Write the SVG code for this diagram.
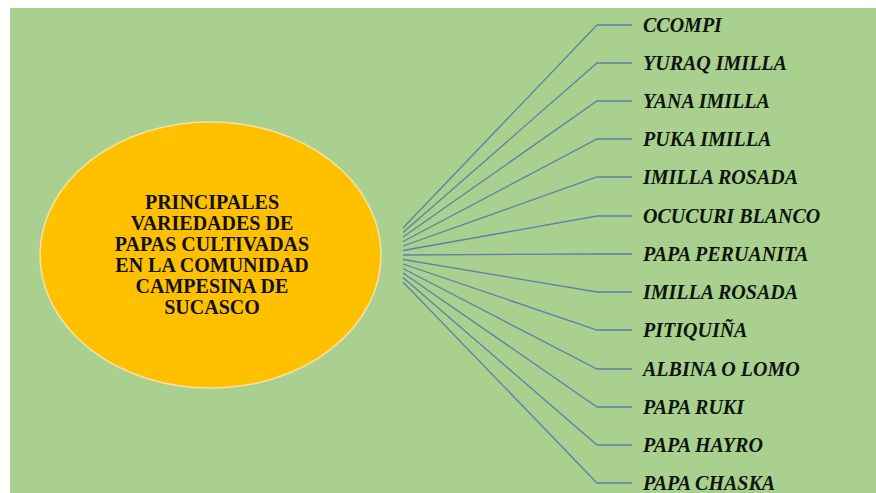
<svg xmlns="http://www.w3.org/2000/svg" width="876" height="493" viewBox="0 0 876 493">
<style>
.lbl{font-family:"Liberation Serif","Times New Roman",serif;font-weight:bold;font-style:italic;font-size:20px;fill:#0d140d}
.ctr{font-family:"Liberation Serif","Times New Roman",serif;font-weight:bold;font-size:20px;fill:#111;text-anchor:middle}
.con{fill:none;stroke:#5f7fa6;stroke-width:1.3}
</style>
<rect x="0" y="0" width="876" height="493" fill="#ffffff"/>
<rect x="10" y="8" width="866" height="485" fill="#a9d08e"/>
<line x1="10" y1="8.5" x2="876" y2="8.5" stroke="#9fd27a" stroke-width="1"/>
<g id="center">
<ellipse cx="210.5" cy="255" rx="170.5" ry="133" fill="#ffc000" stroke="#f4e3a3" stroke-width="1.5"/>
<text class="ctr" x="212" y="209">PRINCIPALES</text>
<text class="ctr" x="212" y="230">VARIEDADES DE</text>
<text class="ctr" x="212" y="251">PAPAS CULTIVADAS</text>
<text class="ctr" x="212" y="272">EN LA COMUNIDAD</text>
<text class="ctr" x="212" y="293">CAMPESINA DE</text>
<text class="ctr" x="212" y="314">SUCASCO</text>
</g>
<g id="connectors">
<polyline class="con" points="403,228 597,25 632,25"/>
<polyline class="con" points="403,232.5 597,63 632,63"/>
<polyline class="con" points="403,237 597,101 632,101"/>
<polyline class="con" points="403,241.5 597,139 632,139"/>
<polyline class="con" points="403,246 597,177 632,177"/>
<polyline class="con" points="403,250.5 597,216 632,216"/>
<polyline class="con" points="403,255 597,254 632,254"/>
<polyline class="con" points="403,259.5 597,292 632,292"/>
<polyline class="con" points="403,264 597,330 632,330"/>
<polyline class="con" points="403,268.5 597,369 632,369"/>
<polyline class="con" points="403,273 597,407 632,407"/>
<polyline class="con" points="403,277.5 597,445 632,445"/>
<polyline class="con" points="403,282 597,483 632,483"/>
</g>
<g id="n1"><text class="lbl" x="643" y="31.5">CCOMPI</text></g>
<g id="n2"><text class="lbl" x="643" y="69.5">YURAQ IMILLA</text></g>
<g id="n3"><text class="lbl" x="643" y="107.5">YANA IMILLA</text></g>
<g id="n4"><text class="lbl" x="643" y="145.5">PUKA IMILLA</text></g>
<g id="n5"><text class="lbl" x="643" y="183.5">IMILLA ROSADA</text></g>
<g id="n6"><text class="lbl" x="643" y="222.5">OCUCURI BLANCO</text></g>
<g id="n7"><text class="lbl" x="643" y="260.5">PAPA PERUANITA</text></g>
<g id="n8"><text class="lbl" x="643" y="298.5">IMILLA ROSADA</text></g>
<g id="n9"><text class="lbl" x="643" y="336.5">PITIQUIÑA</text></g>
<g id="n10"><text class="lbl" x="643" y="375.5">ALBINA O LOMO</text></g>
<g id="n11"><text class="lbl" x="643" y="413.5">PAPA RUKI</text></g>
<g id="n12"><text class="lbl" x="643" y="451.5">PAPA HAYRO</text></g>
<g id="n13"><text class="lbl" x="643" y="489.5">PAPA CHASKA</text></g>
</svg>
